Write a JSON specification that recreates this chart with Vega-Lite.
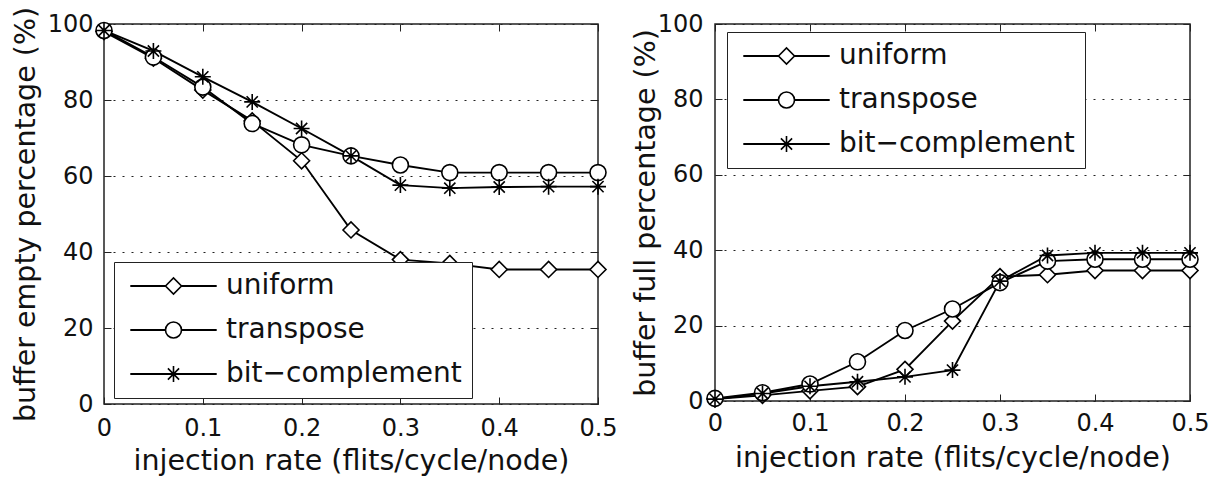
{
  "$schema": "https://vega.github.io/schema/vega-lite/v6.json",
  "background": "white",
  "padding": {"left": 10, "top": 5, "right": 5, "bottom": 5},
  "spacing": 12,
  "resolve": {"scale": {"shape": "independent", "color": "independent"}, "legend": {"shape": "independent", "color": "independent"}},
  "datasets": {
    "empty": [
      {"pattern": "uniform", "rate": 0, "value": 98.0},
      {"pattern": "uniform", "rate": 0.05, "value": 91.0},
      {"pattern": "uniform", "rate": 0.1, "value": 82.6},
      {"pattern": "uniform", "rate": 0.15, "value": 74.5},
      {"pattern": "uniform", "rate": 0.2, "value": 64.0},
      {"pattern": "uniform", "rate": 0.25, "value": 45.8},
      {"pattern": "uniform", "rate": 0.3, "value": 38.0},
      {"pattern": "uniform", "rate": 0.35, "value": 37.0},
      {"pattern": "uniform", "rate": 0.4, "value": 35.4},
      {"pattern": "uniform", "rate": 0.45, "value": 35.4},
      {"pattern": "uniform", "rate": 0.5, "value": 35.4},
      {"pattern": "transpose", "rate": 0, "value": 98.3},
      {"pattern": "transpose", "rate": 0.05, "value": 91.3},
      {"pattern": "transpose", "rate": 0.1, "value": 83.4},
      {"pattern": "transpose", "rate": 0.15, "value": 73.8},
      {"pattern": "transpose", "rate": 0.2, "value": 68.2},
      {"pattern": "transpose", "rate": 0.25, "value": 65.3},
      {"pattern": "transpose", "rate": 0.3, "value": 62.9},
      {"pattern": "transpose", "rate": 0.35, "value": 60.9},
      {"pattern": "transpose", "rate": 0.4, "value": 60.9},
      {"pattern": "transpose", "rate": 0.45, "value": 60.9},
      {"pattern": "transpose", "rate": 0.5, "value": 60.9},
      {"pattern": "bit−complement", "rate": 0, "value": 98.3},
      {"pattern": "bit−complement", "rate": 0.05, "value": 92.9},
      {"pattern": "bit−complement", "rate": 0.1, "value": 86.1},
      {"pattern": "bit−complement", "rate": 0.15, "value": 79.5},
      {"pattern": "bit−complement", "rate": 0.2, "value": 72.5},
      {"pattern": "bit−complement", "rate": 0.25, "value": 65.3},
      {"pattern": "bit−complement", "rate": 0.3, "value": 57.6},
      {"pattern": "bit−complement", "rate": 0.35, "value": 56.8},
      {"pattern": "bit−complement", "rate": 0.4, "value": 57.1},
      {"pattern": "bit−complement", "rate": 0.45, "value": 57.2},
      {"pattern": "bit−complement", "rate": 0.5, "value": 57.2}
    ],
    "full": [
      {"pattern": "uniform", "rate": 0, "value": 0.5},
      {"pattern": "uniform", "rate": 0.05, "value": 1.5},
      {"pattern": "uniform", "rate": 0.1, "value": 2.7},
      {"pattern": "uniform", "rate": 0.15, "value": 3.8},
      {"pattern": "uniform", "rate": 0.2, "value": 8.4},
      {"pattern": "uniform", "rate": 0.25, "value": 21.2},
      {"pattern": "uniform", "rate": 0.3, "value": 33.0},
      {"pattern": "uniform", "rate": 0.35, "value": 33.5},
      {"pattern": "uniform", "rate": 0.4, "value": 34.6},
      {"pattern": "uniform", "rate": 0.45, "value": 34.6},
      {"pattern": "uniform", "rate": 0.5, "value": 34.6},
      {"pattern": "transpose", "rate": 0, "value": 0.7},
      {"pattern": "transpose", "rate": 0.05, "value": 2.2},
      {"pattern": "transpose", "rate": 0.1, "value": 4.5},
      {"pattern": "transpose", "rate": 0.15, "value": 10.4},
      {"pattern": "transpose", "rate": 0.2, "value": 18.7},
      {"pattern": "transpose", "rate": 0.25, "value": 24.4},
      {"pattern": "transpose", "rate": 0.3, "value": 31.4},
      {"pattern": "transpose", "rate": 0.35, "value": 37.1},
      {"pattern": "transpose", "rate": 0.4, "value": 37.6},
      {"pattern": "transpose", "rate": 0.45, "value": 37.6},
      {"pattern": "transpose", "rate": 0.5, "value": 37.6},
      {"pattern": "bit−complement", "rate": 0, "value": 0.5},
      {"pattern": "bit−complement", "rate": 0.05, "value": 2.0},
      {"pattern": "bit−complement", "rate": 0.1, "value": 3.9},
      {"pattern": "bit−complement", "rate": 0.15, "value": 5.1},
      {"pattern": "bit−complement", "rate": 0.2, "value": 6.4},
      {"pattern": "bit−complement", "rate": 0.25, "value": 8.2},
      {"pattern": "bit−complement", "rate": 0.3, "value": 31.8},
      {"pattern": "bit−complement", "rate": 0.35, "value": 38.6},
      {"pattern": "bit−complement", "rate": 0.4, "value": 39.3},
      {"pattern": "bit−complement", "rate": 0.45, "value": 39.3},
      {"pattern": "bit−complement", "rate": 0.5, "value": 39.3}
    ]
  },
  "hconcat": [
    {
      "width": 494,
      "height": 380,
      "data": {"name": "empty"},
      "layer": [
        {
          "mark": {"type": "line", "strokeWidth": 1.9},
          "encoding": {
            "x": {"field": "rate", "type": "quantitative", "scale": {"domain": [0, 0.5], "nice": false},
              "axis": {"orient": "top", "labels": false, "title": null, "grid": false, "tickSize": -7, "values": [0, 0.1, 0.2, 0.3, 0.4, 0.5]}},
            "y": {"field": "value", "type": "quantitative", "scale": {"domain": [0, 100], "nice": false},
              "axis": {"orient": "right", "labels": false, "title": null, "grid": false, "tickSize": -7, "values": [0, 20, 40, 60, 80, 100]}},
            "color": {"field": "pattern", "type": "nominal", "sort": ["uniform", "transpose", "bit−complement"],
              "scale": {"range": ["black", "black", "black"]},
              "legend": {
                "title": null, "orient": "none", "legendX": 10, "legendY": 238, "direction": "vertical",
                "fillColor": "white", "strokeColor": "#222", "padding": 10,
                "labelFont": "DejaVu Sans", "labelFontSize": 28, "labelColor": "#111", "labelLimit": 400,
                "symbolType": "M-5.4,0L5.4,0", "symbolSize": 256, "symbolStrokeWidth": 1.9,
                "symbolOffset": 35.5, "labelOffset": 38.5, "rowPadding": 16,
                "encode": {"legend": {"strokeWidth": {"value": 1.5}}}
              }
            }
          }
        },
        {
          "mark": {"type": "point", "filled": false, "fill": "white", "color": "black", "stroke": "black", "strokeWidth": 1.6, "size": 256, "opacity": 1, "fillOpacity": 1},
          "encoding": {
            "x": {"field": "rate", "type": "quantitative", "scale": {"domain": [0, 0.5], "nice": false},
              "axis": {"orient": "bottom", "title": "injection rate (flits/cycle/node)", "values": [0, 0.1, 0.2, 0.3, 0.4, 0.5], "format": "~g", "grid": false, "tickSize": -7, "labelPadding": 19.5, "titlePadding": 6}},
            "y": {"field": "value", "type": "quantitative", "scale": {"domain": [0, 100], "nice": false},
              "axis": {"orient": "left", "title": "buffer empty percentage (%)", "values": [0, 20, 40, 60, 80, 100], "grid": true, "tickSize": -7, "labelPadding": 18, "titlePadding": 7}},
            "shape": {"field": "pattern", "type": "nominal",
              "scale": {"domain": ["uniform", "transpose", "bit−complement"], "range": ["diamond", "circle", "M-1,0L1,0M0,-1L0,1M-0.7,-0.7L0.7,0.7M-0.7,0.7L0.7,-0.7"]},
              "legend": {
                "title": null, "orient": "none", "legendX": 10, "legendY": 238, "direction": "vertical",
                "padding": 10,
                "labelFont": "DejaVu Sans", "labelFontSize": 28, "labelColor": "#111", "labelLimit": 400, "labelExpr": "' '",
                "symbolSize": 256, "symbolStrokeWidth": 1.6, "symbolOpacity": 1,
                "symbolOffset": 35.5, "labelOffset": 38.5, "rowPadding": 16
              }
            }
          }
        }
      ]
    },
    {
      "width": 475,
      "height": 377,
      "data": {"name": "full"},
      "layer": [
        {
          "mark": {"type": "line", "strokeWidth": 1.9},
          "encoding": {
            "x": {"field": "rate", "type": "quantitative", "scale": {"domain": [0, 0.5], "nice": false},
              "axis": {"orient": "top", "labels": false, "title": null, "grid": false, "tickSize": -7, "values": [0, 0.1, 0.2, 0.3, 0.4, 0.5]}},
            "y": {"field": "value", "type": "quantitative", "scale": {"domain": [0, 100], "nice": false},
              "axis": {"orient": "right", "labels": false, "title": null, "grid": false, "tickSize": -7, "values": [0, 20, 40, 60, 80, 100]}},
            "color": {"field": "pattern", "type": "nominal", "sort": ["uniform", "transpose", "bit−complement"],
              "scale": {"range": ["black", "black", "black"]},
              "legend": {
                "title": null, "orient": "none", "legendX": 12, "legendY": 8, "direction": "vertical",
                "fillColor": "white", "strokeColor": "#222", "padding": 10,
                "labelFont": "DejaVu Sans", "labelFontSize": 28, "labelColor": "#111", "labelLimit": 400,
                "symbolType": "M-5.4,0L5.4,0", "symbolSize": 256, "symbolStrokeWidth": 1.9,
                "symbolOffset": 35.5, "labelOffset": 38.5, "rowPadding": 16,
                "encode": {"legend": {"strokeWidth": {"value": 1.5}}}
              }
            }
          }
        },
        {
          "mark": {"type": "point", "filled": false, "fill": "white", "color": "black", "stroke": "black", "strokeWidth": 1.6, "size": 256, "opacity": 1, "fillOpacity": 1},
          "encoding": {
            "x": {"field": "rate", "type": "quantitative", "scale": {"domain": [0, 0.5], "nice": false},
              "axis": {"orient": "bottom", "title": "injection rate (flits/cycle/node)", "values": [0, 0.1, 0.2, 0.3, 0.4, 0.5], "format": "~g", "grid": false, "tickSize": -7, "labelPadding": 17, "titlePadding": 8}},
            "y": {"field": "value", "type": "quantitative", "scale": {"domain": [0, 100], "nice": false},
              "axis": {"orient": "left", "title": "buffer full percentage (%)", "values": [0, 20, 40, 60, 80, 100], "grid": true, "tickSize": -7, "labelPadding": 19, "titlePadding": -3}},
            "shape": {"field": "pattern", "type": "nominal",
              "scale": {"domain": ["uniform", "transpose", "bit−complement"], "range": ["diamond", "circle", "M-1,0L1,0M0,-1L0,1M-0.7,-0.7L0.7,0.7M-0.7,0.7L0.7,-0.7"]},
              "legend": {
                "title": null, "orient": "none", "legendX": 12, "legendY": 8, "direction": "vertical",
                "padding": 10,
                "labelFont": "DejaVu Sans", "labelFontSize": 28, "labelColor": "#111", "labelLimit": 400, "labelExpr": "' '",
                "symbolSize": 256, "symbolStrokeWidth": 1.6, "symbolOpacity": 1,
                "symbolOffset": 35.5, "labelOffset": 38.5, "rowPadding": 16
              }
            }
          }
        }
      ]
    }
  ],
  "config": {
    "font": "DejaVu Sans",
    "view": {"stroke": "#222", "strokeWidth": 1.5},
    "axis": {
      "domain": false,
      "labelFont": "DejaVu Sans", "labelFontSize": 24, "labelColor": "#111",
      "labelFlush": false, "labelOverlap": false,
      "titleFont": "DejaVu Sans", "titleFontSize": 28.5, "titleFontWeight": "normal", "titleColor": "#111",
      "tickColor": "#222", "tickWidth": 1,
      "gridColor": "#222", "gridDash": [2, 7], "gridWidth": 1, "gridOpacity": 1
    }
  }
}
